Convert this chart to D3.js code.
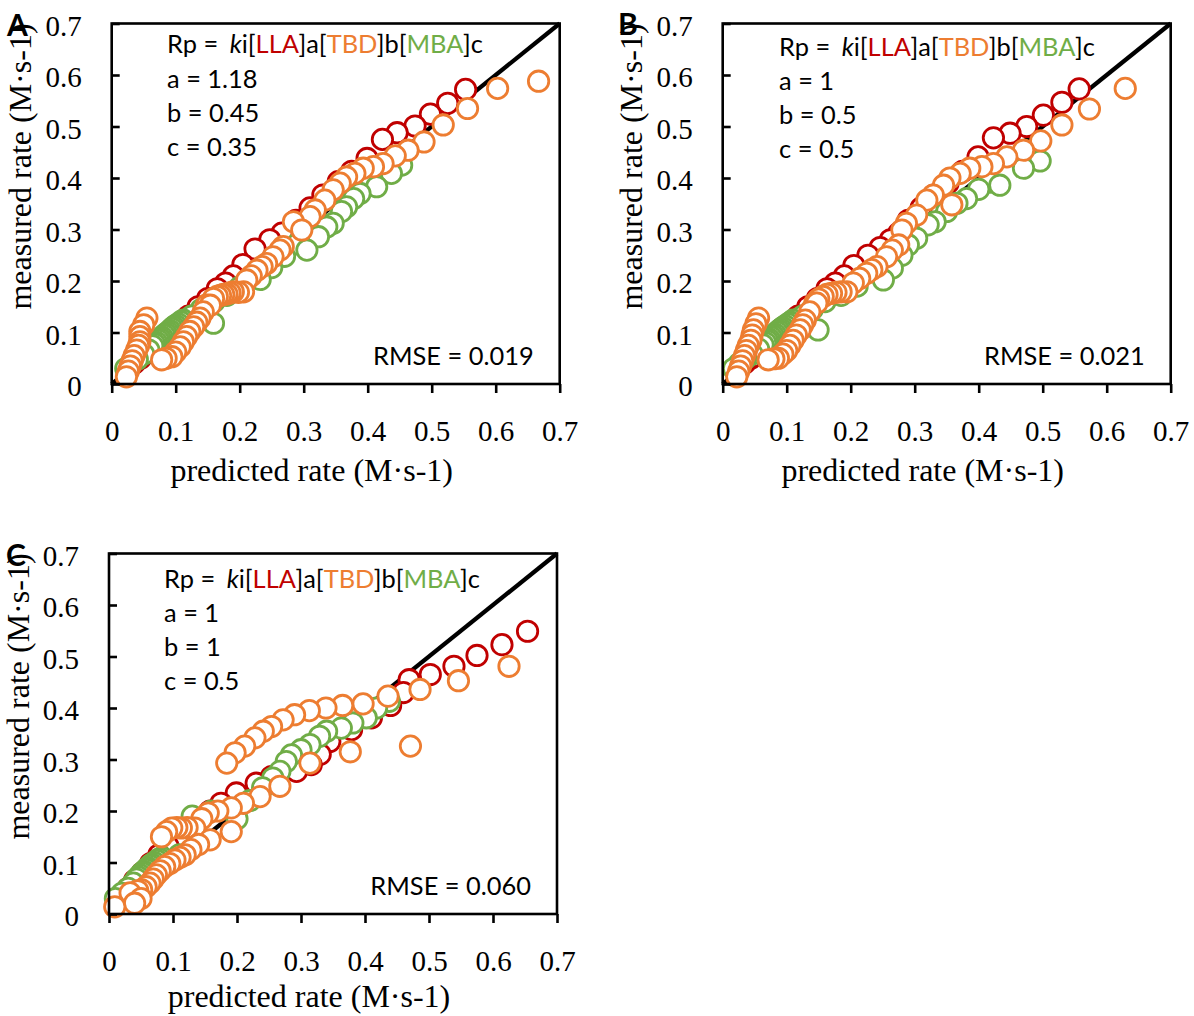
<!DOCTYPE html>
<html>
<head>
<meta charset="utf-8">
<script src="https://cdn.jsdelivr.net/npm/d3@7"></script>
<style>
  body { margin: 0; background: #fff; }
  svg { display: block; }
</style>
</head>
<body>
<svg id="fig" width="1194" height="1016"></svg>
<script>
// Axis ticks shared by both axes of every panel
const tickValues = [0, 0.1, 0.2, 0.3, 0.4, 0.5, 0.6, 0.7];
const tickLabels = ["0", "0.1", "0.2", "0.3", "0.4", "0.5", "0.6", "0.7"];

const panelTags = ["A", "B", "C"];
const exponentsA = ["1.18", "0.45", "0.35"];
const exponentsB = ["1", "0.5", "0.5"];
const exponentsC = ["1", "1", "0.5"];
const rmseLabels = ["RMSE = 0.019", "RMSE = 0.021", "RMSE = 0.060"];
const xTitle = "predicted rate (M\u00B7s-1)";
const yTitle = "measured rate (M\u00B7s-1)";

// [predicted, measured] pairs, model A
const llaA = [[0.025,0.03],[0.035,0.04],[0.045,0.05],[0.06,0.065],[0.075,0.08],[0.09,0.098],[0.105,0.115],[0.12,0.132],[0.135,0.15],[0.15,0.166],[0.165,0.185],[0.178,0.196],[0.19,0.21],[0.205,0.232],[0.224,0.262],[0.247,0.28],[0.266,0.293],[0.288,0.318],[0.31,0.342],[0.33,0.367],[0.354,0.393],[0.375,0.413],[0.399,0.438],[0.423,0.475],[0.446,0.488],[0.474,0.501],[0.498,0.524],[0.525,0.545],[0.553,0.572]];
const mbaA = [[0.022,0.03],[0.03,0.038],[0.04,0.048],[0.05,0.058],[0.058,0.066],[0.064,0.074],[0.067,0.078],[0.07,0.081],[0.073,0.085],[0.076,0.088],[0.079,0.091],[0.082,0.095],[0.085,0.098],[0.088,0.101],[0.091,0.104],[0.094,0.108],[0.097,0.111],[0.1,0.114],[0.104,0.117],[0.108,0.121],[0.112,0.124],[0.159,0.118],[0.125,0.132],[0.14,0.145],[0.16,0.16],[0.18,0.172],[0.2,0.188],[0.232,0.203],[0.25,0.226],[0.27,0.248],[0.305,0.26],[0.29,0.272],[0.323,0.286],[0.336,0.305],[0.346,0.312],[0.359,0.335],[0.367,0.344],[0.378,0.36],[0.388,0.37],[0.414,0.383],[0.401,0.386],[0.437,0.409],[0.453,0.425]];
const tbdA = [[0.023,0.014],[0.026,0.025],[0.029,0.035],[0.032,0.045],[0.035,0.055],[0.039,0.066],[0.042,0.075],[0.044,0.082],[0.044,0.092],[0.044,0.102],[0.05,0.115],[0.055,0.128],
  [0.078,0.047],[0.085,0.05],[0.094,0.053],[0.1,0.062],[0.107,0.072],[0.112,0.082],[0.117,0.092],[0.122,0.102],[0.128,0.111],[0.133,0.12],[0.138,0.128],[0.143,0.14],[0.154,0.153],[0.148,0.153],[0.159,0.166],[0.165,0.17],[0.17,0.172],[0.175,0.174],[0.18,0.175],[0.185,0.177],[0.19,0.179],[0.198,0.178],[0.206,0.179],[0.211,0.202],[0.218,0.21],[0.227,0.221],[0.235,0.228],[0.242,0.234],[0.252,0.247],[0.263,0.26],[0.268,0.267],[0.297,0.299],[0.284,0.315],[0.31,0.325],[0.318,0.338],[0.333,0.357],[0.346,0.377],[0.357,0.39],[0.367,0.402],[0.38,0.409],[0.393,0.419],[0.409,0.422],[0.424,0.428],[0.443,0.443],[0.463,0.454],[0.488,0.47],[0.518,0.503],[0.556,0.535],[0.603,0.574],[0.667,0.588]];

// model B
const llaB = [[0.024,0.03],[0.034,0.04],[0.044,0.05],[0.058,0.065],[0.073,0.08],[0.088,0.098],[0.103,0.115],[0.118,0.132],[0.133,0.15],[0.148,0.166],[0.163,0.185],[0.176,0.196],[0.19,0.21],[0.205,0.23],[0.227,0.25],[0.246,0.265],[0.262,0.28],[0.275,0.293],[0.29,0.318],[0.31,0.342],[0.33,0.367],[0.352,0.39],[0.375,0.413],[0.399,0.441],[0.423,0.478],[0.449,0.487],[0.475,0.5],[0.501,0.522],[0.53,0.547],[0.557,0.573]];
const mbaB = [[0.017,0.03],[0.026,0.04],[0.036,0.05],[0.046,0.058],[0.056,0.068],[0.063,0.076],[0.067,0.08],[0.07,0.084],[0.073,0.087],[0.076,0.091],[0.079,0.094],[0.082,0.097],[0.085,0.101],[0.088,0.104],[0.091,0.107],[0.094,0.11],[0.098,0.113],[0.102,0.117],[0.106,0.12],[0.11,0.124],[0.149,0.105],[0.125,0.132],[0.14,0.145],[0.16,0.16],[0.185,0.172],[0.21,0.19],[0.251,0.202],[0.265,0.225],[0.28,0.25],[0.29,0.27],[0.303,0.283],[0.321,0.309],[0.332,0.315],[0.35,0.335],[0.366,0.351],[0.381,0.36],[0.4,0.378],[0.433,0.386],[0.418,0.392],[0.47,0.419],[0.496,0.433]];
const tbdB = [[0.022,0.014],[0.025,0.025],[0.028,0.035],[0.031,0.045],[0.034,0.055],[0.037,0.065],[0.04,0.075],[0.044,0.085],[0.046,0.095],[0.048,0.105],[0.052,0.117],[0.056,0.128],
  [0.071,0.047],[0.08,0.049],[0.087,0.05],[0.094,0.058],[0.1,0.065],[0.105,0.075],[0.11,0.085],[0.115,0.095],[0.121,0.105],[0.125,0.115],[0.129,0.124],[0.136,0.14],[0.147,0.157],[0.144,0.157],[0.15,0.165],[0.157,0.17],[0.163,0.174],[0.17,0.176],[0.177,0.178],[0.185,0.179],[0.194,0.179],[0.204,0.196],[0.214,0.205],[0.225,0.215],[0.233,0.222],[0.241,0.228],[0.256,0.247],[0.265,0.26],[0.275,0.27],[0.28,0.299],[0.287,0.312],[0.303,0.328],[0.358,0.348],[0.319,0.357],[0.329,0.367],[0.345,0.386],[0.355,0.4],[0.371,0.409],[0.386,0.419],[0.405,0.422],[0.423,0.428],[0.444,0.441],[0.47,0.454],[0.497,0.472],[0.53,0.503],[0.573,0.534],[0.629,0.574]];

// model C
const llaC = [[0.015,0.03],[0.022,0.04],[0.03,0.05],[0.04,0.065],[0.052,0.08],[0.065,0.098],[0.078,0.115],[0.092,0.132],[0.108,0.15],[0.125,0.166],[0.142,0.185],[0.158,0.2],[0.175,0.215],[0.199,0.235],[0.23,0.254],[0.254,0.267],[0.293,0.277],[0.316,0.29],[0.33,0.31],[0.345,0.335],[0.379,0.358],[0.41,0.381],[0.44,0.405],[0.46,0.43],[0.469,0.455],[0.502,0.465],[0.539,0.481],[0.575,0.502],[0.614,0.523],[0.654,0.549]];
const mbaC = [[0.01,0.03],[0.02,0.04],[0.03,0.05],[0.038,0.06],[0.043,0.068],[0.046,0.072],[0.049,0.076],[0.052,0.08],[0.055,0.083],[0.058,0.087],[0.061,0.09],[0.064,0.094],[0.067,0.097],[0.071,0.1],[0.075,0.104],[0.079,0.107],[0.083,0.11],[0.11,0.115],[0.13,0.19],[0.2,0.185],[0.16,0.2],[0.22,0.22],[0.24,0.245],[0.256,0.264],[0.267,0.277],[0.277,0.296],[0.285,0.309],[0.3,0.319],[0.314,0.329],[0.329,0.345],[0.34,0.355],[0.363,0.361],[0.381,0.371],[0.402,0.381],[0.418,0.4],[0.438,0.413]];
const tbdC = [[0.009,0.014],[0.04,0.021],[0.05,0.03],[0.033,0.041],[0.045,0.045],[0.051,0.047],[0.058,0.053],[0.064,0.06],[0.069,0.068],[0.074,0.076],[0.08,0.084],[0.087,0.092],[0.095,0.098],[0.103,0.105],[0.111,0.11],[0.119,0.115],[0.128,0.125],[0.14,0.135],[0.158,0.144],[0.082,0.15],[0.191,0.16],[0.09,0.16],[0.098,0.167],[0.106,0.168],[0.113,0.167],[0.122,0.168],[0.134,0.167],[0.145,0.185],[0.155,0.196],[0.17,0.2],[0.191,0.206],[0.21,0.215],[0.236,0.228],[0.267,0.248],[0.184,0.293],[0.314,0.293],[0.197,0.313],[0.377,0.315],[0.212,0.326],[0.471,0.326],[0.228,0.342],[0.241,0.355],[0.254,0.364],[0.272,0.377],[0.29,0.387],[0.313,0.395],[0.339,0.4],[0.365,0.405],[0.397,0.408],[0.436,0.423],[0.486,0.436],[0.546,0.453],[0.625,0.481]];

const colors = { LLA: "#C00000", TBD: "#ED7D31", MBA: "#70AD47" };
const serif = "'Liberation Serif', 'Times New Roman', serif";
const sans = "Lato, 'Open Sans', sans-serif";

const svg = d3.select("#fig");
const plotW = 448, plotH = 360.5;

const panels = [
  { tag: panelTags[0], left: 111.7, top: 23.5, lla: llaA, mba: mbaA, tbd: tbdA, exps: exponentsA, rmse: rmseLabels[0], eqX: 167, eqY: 53.3, tagX: 7, tagY: 36, titleDy: 97 },
  { tag: panelTags[1], left: 722.7, top: 23.5, lla: llaB, mba: mbaB, tbd: tbdB, exps: exponentsB, rmse: rmseLabels[1], eqX: 779, eqY: 55.5, tagX: 618, tagY: 35, titleDy: 97 },
  { tag: panelTags[2], left: 109,   top: 553.5, lla: llaC, mba: mbaC, tbd: tbdC, exps: exponentsC, rmse: rmseLabels[2], eqX: 164, eqY: 587.5, tagX: 6, tagY: 566, titleDy: 93 }
];

// size the sans-serif annotation font so the equation spans its intended width
const probe = svg.append("text").attr("font-family", sans).attr("font-size", 28)
  .text("Rp = ki[LLA]a[TBD]b[MBA]c");
const sansSize = 28 * 312 / probe.node().getComputedTextLength();
probe.remove();

panels.forEach(p => {
  const g = svg.append("g");
  const x = d3.scaleLinear().domain([0, 0.7]).range([p.left, p.left + plotW]);
  const y = d3.scaleLinear().domain([0, 0.7]).range([p.top + plotH, p.top]);
  const bottom = p.top + plotH;

  // 1:1 reference line
  g.append("line")
    .attr("x1", x(0)).attr("y1", y(0)).attr("x2", x(0.7)).attr("y2", y(0.7))
    .attr("stroke", "#000").attr("stroke-width", 4.2);

  // open circles: LLA, then MBA, then TBD on top
  [["LLA", p.lla], ["MBA", p.mba], ["TBD", p.tbd]].forEach(([key, data]) => {
    g.append("g").selectAll("circle")
      .data(data.slice().reverse())
      .join("circle")
      .attr("cx", d => x(d[0]))
      .attr("cy", d => y(d[1]))
      .attr("r", 10.2)
      .attr("fill", "#fff")
      .attr("stroke", colors[key])
      .attr("stroke-width", 2.8);
  });

  // plot frame
  g.append("rect")
    .attr("x", p.left).attr("y", p.top).attr("width", plotW).attr("height", plotH)
    .attr("fill", "none").attr("stroke", "#000").attr("stroke-width", 2.6);

  // x axis: outward ticks
  const xa = g.append("g").attr("transform", `translate(0,${bottom})`)
    .call(d3.axisBottom(x).tickValues(tickValues).tickFormat((d, i) => tickLabels[i])
      .tickSize(9).tickPadding(27));
  xa.select(".domain").remove();
  xa.selectAll("line").attr("stroke", "#000").attr("stroke-width", 2.6);
  xa.selectAll("text").attr("font-family", serif).attr("font-size", 29).attr("fill", "#000");

  // y axis: inward ticks
  const ya = g.append("g").attr("transform", `translate(${p.left},0)`)
    .call(d3.axisLeft(y).tickValues(tickValues).tickFormat((d, i) => tickLabels[i])
      .tickSizeInner(-8).tickSizeOuter(0).tickPadding(30));
  ya.select(".domain").remove();
  ya.selectAll("line").attr("stroke", "#000").attr("stroke-width", 2.6);
  ya.selectAll("text").attr("font-family", serif).attr("font-size", 29).attr("fill", "#000")
    .attr("dy", "0.4em");

  // axis titles
  g.append("text")
    .attr("x", p.left + 200).attr("y", bottom + p.titleDy)
    .attr("text-anchor", "middle").attr("font-family", serif).attr("font-size", 32)
    .text(xTitle);
  g.append("text")
    .attr("transform", `translate(${p.left - 80.5},${p.top + 143}) rotate(-90)`)
    .attr("text-anchor", "middle").attr("font-family", serif).attr("font-size", 32)
    .text(yTitle);

  // panel tag
  g.append("text")
    .attr("x", p.tagX).attr("y", p.tagY)
    .attr("font-family", sans).attr("font-weight", "bold").attr("font-size", 30)
    .text(p.tag);

  // rate-law equation
  const eq = g.append("text").attr("x", p.eqX).attr("y", p.eqY)
    .attr("font-family", sans).attr("font-size", sansSize).attr("fill", "#000");
  eq.append("tspan").text("Rp =");
  eq.append("tspan").attr("dx", sansSize * 0.45).attr("font-style", "italic").text("k");
  eq.append("tspan").text("i[");
  eq.append("tspan").attr("fill", colors.LLA).text("LLA");
  eq.append("tspan").text("]a[");
  eq.append("tspan").attr("fill", colors.TBD).text("TBD");
  eq.append("tspan").text("]b[");
  eq.append("tspan").attr("fill", colors.MBA).text("MBA");
  eq.append("tspan").text("]c");

  ["a", "b", "c"].forEach((k, i) => {
    g.append("text")
      .attr("x", p.eqX).attr("y", p.eqY + 34.3 * (i + 1))
      .attr("font-family", sans).attr("font-size", sansSize)
      .text(`${k} = ${p.exps[i]}`);
  });

  // goodness of fit
  g.append("text")
    .attr("x", p.left + 422).attr("y", bottom - 19)
    .attr("text-anchor", "end").attr("font-family", sans).attr("font-size", sansSize)
    .text(p.rmse);
});
</script>
</body>
</html>
